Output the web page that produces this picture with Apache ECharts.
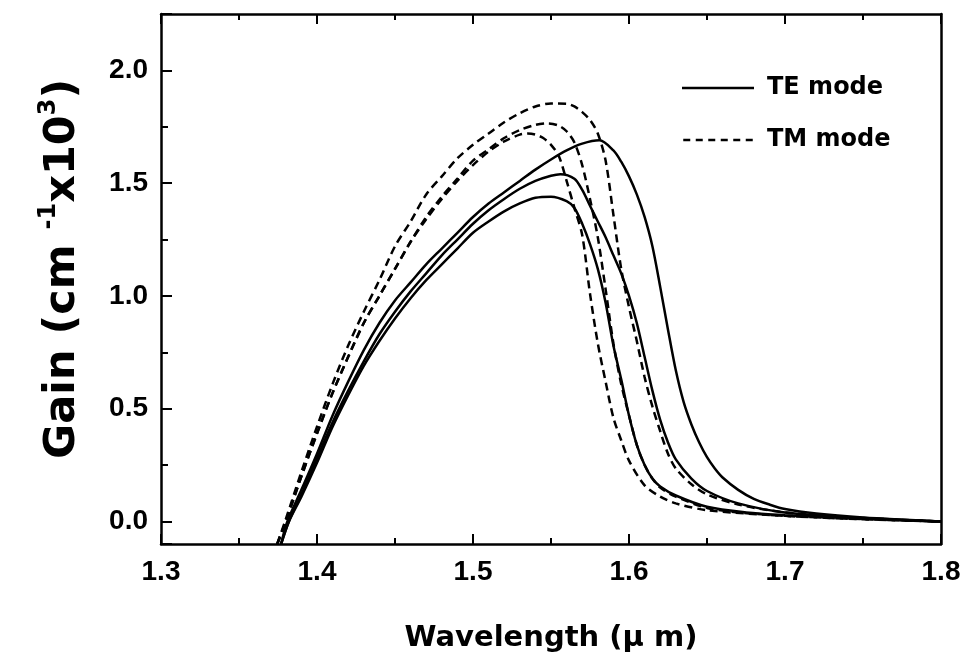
<!DOCTYPE html>
<html><head><meta charset="utf-8">
<script src="https://cdn.jsdelivr.net/npm/echarts@6/dist/echarts.min.js"></script>
<style>html,body{margin:0;padding:0;background:#fff}#c{width:968px;height:666px}</style>
</head><body><div id="c"></div>
<script>
// ---- Data ----
const xTickLabels = ['1.3', '1.4', '1.5', '1.6', '1.7', '1.8'];
const yTickLabels = ['0.0', '0.5', '1.0', '1.5', '2.0'];
const legendNames = ['TE mode', 'TM mode'];

const te1X = [1.377, 1.382, 1.39, 1.40, 1.41, 1.42, 1.43, 1.44, 1.45, 1.46, 1.47, 1.48, 1.49, 1.50, 1.51, 1.52, 1.53, 1.54, 1.55, 1.56, 1.565, 1.57, 1.575, 1.58, 1.585, 1.59, 1.595, 1.60, 1.605, 1.61, 1.615, 1.62, 1.63, 1.65, 1.675, 1.70, 1.75, 1.80];
const te1Y = [-0.1, 0.0, 0.11, 0.26, 0.42, 0.56, 0.69, 0.80, 0.90, 0.99, 1.07, 1.14, 1.21, 1.28, 1.33, 1.375, 1.41, 1.435, 1.44, 1.42, 1.39, 1.32, 1.23, 1.12, 0.97, 0.78, 0.63, 0.47, 0.34, 0.25, 0.19, 0.155, 0.115, 0.065, 0.04, 0.028, 0.012, 0.0];

const te2X = [1.377, 1.382, 1.39, 1.40, 1.41, 1.42, 1.43, 1.44, 1.45, 1.46, 1.47, 1.48, 1.49, 1.50, 1.51, 1.52, 1.53, 1.54, 1.55, 1.556, 1.565, 1.57, 1.575, 1.58, 1.585, 1.59, 1.595, 1.60, 1.605, 1.61, 1.615, 1.62, 1.625, 1.63, 1.64, 1.65, 1.67, 1.70, 1.75, 1.80];
const te2Y = [-0.1, 0.0, 0.12, 0.28, 0.44, 0.58, 0.71, 0.83, 0.93, 1.02, 1.10, 1.18, 1.25, 1.32, 1.38, 1.43, 1.475, 1.51, 1.533, 1.54, 1.52, 1.47, 1.40, 1.33, 1.26, 1.18, 1.10, 1.00, 0.88, 0.73, 0.58, 0.45, 0.35, 0.275, 0.19, 0.135, 0.08, 0.04, 0.015, 0.0];

const te3X = [1.377, 1.381, 1.39, 1.40, 1.41, 1.42, 1.43, 1.44, 1.45, 1.46, 1.47, 1.48, 1.49, 1.50, 1.51, 1.52, 1.53, 1.54, 1.55, 1.56, 1.57, 1.581, 1.59, 1.595, 1.60, 1.605, 1.61, 1.615, 1.62, 1.625, 1.63, 1.635, 1.64, 1.645, 1.65, 1.655, 1.66, 1.67, 1.68, 1.69, 1.70, 1.72, 1.75, 1.80];
const te3Y = [-0.1, 0.0, 0.14, 0.30, 0.47, 0.62, 0.76, 0.88, 0.98, 1.06, 1.14, 1.21, 1.28, 1.35, 1.41, 1.46, 1.51, 1.56, 1.605, 1.645, 1.675, 1.69, 1.645, 1.595, 1.53, 1.45, 1.35, 1.22, 1.04, 0.85, 0.67, 0.53, 0.43, 0.35, 0.285, 0.235, 0.195, 0.14, 0.10, 0.075, 0.055, 0.035, 0.018, 0.0];

const tm1X = [1.3745, 1.38, 1.39, 1.40, 1.41, 1.42, 1.43, 1.44, 1.45, 1.46, 1.47, 1.48, 1.49, 1.50, 1.51, 1.52, 1.53, 1.535, 1.54, 1.545, 1.55, 1.555, 1.56, 1.565, 1.57, 1.575, 1.58, 1.585, 1.59, 1.595, 1.60, 1.61, 1.62, 1.63, 1.65, 1.70, 1.75, 1.80];
const tm1Y = [-0.1, 0.0, 0.20, 0.39, 0.57, 0.73, 0.88, 1.00, 1.12, 1.24, 1.34, 1.43, 1.51, 1.58, 1.64, 1.685, 1.715, 1.72, 1.715, 1.70, 1.67, 1.62, 1.51, 1.39, 1.27, 1.01, 0.79, 0.62, 0.46, 0.36, 0.27, 0.16, 0.11, 0.08, 0.05, 0.025, 0.01, 0.0];

const tm2X = [1.3745, 1.38, 1.39, 1.40, 1.41, 1.42, 1.43, 1.44, 1.45, 1.46, 1.47, 1.48, 1.49, 1.50, 1.51, 1.52, 1.53, 1.54, 1.548, 1.555, 1.56, 1.565, 1.57, 1.575, 1.58, 1.585, 1.59, 1.595, 1.60, 1.605, 1.61, 1.615, 1.62, 1.63, 1.65, 1.67, 1.70, 1.75, 1.80];
const tm2Y = [-0.1, 0.0, 0.20, 0.39, 0.57, 0.73, 0.88, 1.00, 1.12, 1.24, 1.35, 1.44, 1.52, 1.60, 1.65, 1.70, 1.735, 1.758, 1.765, 1.755, 1.73, 1.68, 1.58, 1.43, 1.26, 1.03, 0.79, 0.61, 0.47, 0.34, 0.25, 0.19, 0.15, 0.11, 0.06, 0.04, 0.025, 0.01, 0.0];

const tm3X = [1.3745, 1.38, 1.39, 1.40, 1.41, 1.42, 1.43, 1.44, 1.45, 1.46, 1.47, 1.48, 1.49, 1.50, 1.51, 1.52, 1.53, 1.54, 1.55, 1.56, 1.565, 1.57, 1.575, 1.58, 1.585, 1.59, 1.595, 1.60, 1.605, 1.61, 1.615, 1.62, 1.625, 1.63, 1.64, 1.65, 1.67, 1.70, 1.75, 1.80];
const tm3Y = [-0.1, 0.01, 0.22, 0.42, 0.61, 0.78, 0.93, 1.07, 1.22, 1.33, 1.45, 1.53, 1.61, 1.67, 1.72, 1.77, 1.81, 1.84, 1.853, 1.852, 1.84, 1.815, 1.78, 1.72, 1.60, 1.36, 1.12, 0.95, 0.80, 0.64, 0.51, 0.40, 0.30, 0.235, 0.165, 0.12, 0.075, 0.04, 0.015, 0.0];

// ---- Chart ----
const FONT = '"Liberation Sans", Arial, sans-serif';
const WIDE = '"DejaVu Sans", "Liberation Sans", sans-serif';
const pairs = (xs, ys) => xs.map((x, i) => [x, ys[i]]);
const solid = { color: '#000', width: 2.5, type: 'solid' };
const dashed = { color: '#000', width: 2.5, type: [8, 5] };
const solidIcon = 'path://M0,0H72V2.6H0Z';
const dashedIcon = 'path://M0,0h7v2.6h-7z M12.5,0h7v2.6h-7z M25,0h7v2.6h-7z M37.5,0h7v2.6h-7z M50,0h7v2.6h-7z M62.5,0h7v2.6h-7z';

function mk(name, xs, ys, ls) {
  return {
    type: 'line', name: name, data: pairs(xs, ys),
    showSymbol: false, symbol: 'none', smooth: 0.3,
    lineStyle: ls, itemStyle: { color: '#000' },
    xAxisIndex: 0, yAxisIndex: 0, animation: false, z: 3
  };
}

const chart = echarts.init(document.getElementById('c'), null, { renderer: 'canvas' });
chart.setOption({
  backgroundColor: '#fff',
  animation: false,
  textStyle: { fontFamily: FONT, color: '#000' },
  grid: { left: 161, right: 27, top: 14, bottom: 122, containLabel: false },
  legend: {
    data: [{ name: legendNames[0], icon: solidIcon }, { name: legendNames[1], icon: dashedIcon }],
    orient: 'vertical', left: 682, top: 76, padding: 0,
    itemWidth: 72, itemHeight: 2.6, itemGap: 28, itemStyle: { color: '#000', borderWidth: 0 },
    textStyle: { fontFamily: WIDE, fontSize: 24, fontWeight: 'bold', color: '#000', padding: [0, 0, 0, 8] },
    selectedMode: false
  },
  xAxis: [{
    type: 'value', min: 1.3, max: 1.8, interval: 0.1, position: 'bottom',
    name: 'Wavelength (\u00b5 m)', nameLocation: 'middle', nameGap: 80,
    nameTextStyle: { fontFamily: WIDE, fontSize: 29, fontWeight: 'bold', color: '#000' },
    axisLine: { show: true, onZero: false, lineStyle: { color: '#000', width: 2.5 } },
    axisTick: { show: true, inside: true, length: 10, lineStyle: { color: '#000', width: 2 } },
    minorTick: { show: true, splitNumber: 2, length: 6, lineStyle: { color: '#000', width: 2 } },
    axisLabel: { margin: 14, fontFamily: FONT, fontSize: 28, fontWeight: 'bold', color: '#000',
      formatter: v => { const i = Math.round((v - 1.3) * 10); return xTickLabels[i] || ''; } },
    splitLine: { show: false }
  }, {
    type: 'value', min: 1.3, max: 1.8, interval: 0.1, position: 'top',
    axisLine: { show: true, onZero: false, lineStyle: { color: '#000', width: 2.5 } },
    axisTick: { show: true, inside: true, length: 10, lineStyle: { color: '#000', width: 2 } },
    minorTick: { show: true, splitNumber: 2, length: 6, lineStyle: { color: '#000', width: 2 } },
    axisLabel: { show: false }, splitLine: { show: false }
  }],
  yAxis: [{
    type: 'value', min: -0.1, max: 2.25, splitNumber: 5, position: 'left',
    name: 'Gain (cm {sup|-1}x10{sup|3})', nameLocation: 'middle', nameGap: 72, nameRotate: 90,
    nameTextStyle: { fontFamily: WIDE, fontSize: 43, fontWeight: 'bold', color: '#000', padding: [0, 0, 0, 20],
      rich: { sup: { fontFamily: WIDE, fontSize: 24, fontWeight: 'bold', color: '#000', verticalAlign: 'top', padding: [0, 0, 28, 0] } } },
    axisLine: { show: true, onZero: false, lineStyle: { color: '#000', width: 2.5 } },
    axisTick: { show: true, inside: true, length: 11, lineStyle: { color: '#000', width: 2 } },
    minorTick: { show: true, splitNumber: 2, length: 7, lineStyle: { color: '#000', width: 2 } },
    axisLabel: { margin: 13, fontFamily: FONT, fontSize: 28, fontWeight: 'bold', color: '#000',
      showMinLabel: false, showMaxLabel: false,
      formatter: v => { const k = v * 2; if (Math.abs(k - Math.round(k)) > 1e-6 || v < -1e-9) return ''; return yTickLabels[Math.round(k)] || ''; } },
    splitLine: { show: false }
  }, {
    type: 'value', min: -0.1, max: 2.25, position: 'right',
    axisLine: { show: true, onZero: false, lineStyle: { color: '#000', width: 2.5 } },
    axisTick: { show: false }, axisLabel: { show: false }, splitLine: { show: false }
  }],
  series: [
    mk('TE mode', te1X, te1Y, solid),
    mk('TE mode', te2X, te2Y, solid),
    mk('TE mode', te3X, te3Y, solid),
    mk('TM mode', tm1X, tm1Y, dashed),
    mk('TM mode', tm2X, tm2Y, dashed),
    mk('TM mode', tm3X, tm3Y, dashed)
  ]
});
</script></body></html>
